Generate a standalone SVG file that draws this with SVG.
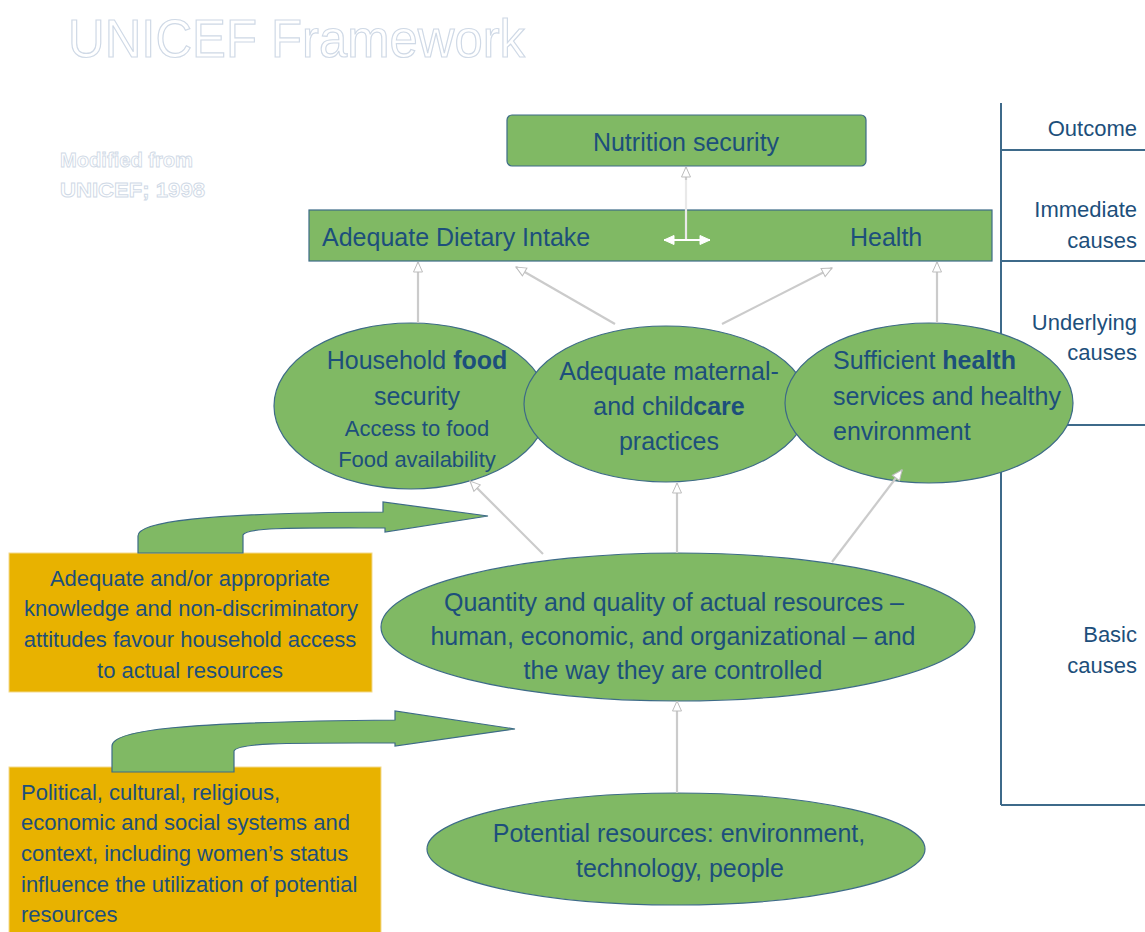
<svg xmlns="http://www.w3.org/2000/svg" width="1145" height="932" viewBox="0 0 1145 932">
<style>
  text { font-family: "Liberation Sans", Arial, sans-serif; fill: #1d4f7b; }
  .t25 { font-size: 25px; }
  .t22 { font-size: 22px; }
  .mid { text-anchor: middle; }
  .end { text-anchor: end; }
  .b { font-weight: bold; }
  .green { fill: #80b964; stroke: #3d6b87; stroke-width: 1.2; }
  .orange { fill: #e8b200; stroke: #f3d98c; stroke-width: 1; }
  .col { stroke: #3e6a8a; stroke-width: 2; fill: none; }
  .conn { stroke: #cbcbcb; stroke-width: 2.2; fill: none; marker-end: url(#ah); }
  .wconn { stroke: #e9e9e9; stroke-width: 2.2; fill: none; }
  .ghost { fill: #ffffff; stroke: #cfd9e6; stroke-width: 1.2; }
</style>
<defs>
  <marker id="ah" viewBox="0 0 12 12" refX="11" refY="6" markerWidth="12" markerHeight="12" markerUnits="userSpaceOnUse" orient="auto">
    <path d="M1,1.5 L11,6 L1,10.5 Z" fill="#ffffff" stroke="#bdbdbd" stroke-width="1"/>
  </marker>
  <marker id="wh" viewBox="0 0 12 12" refX="11" refY="6" markerWidth="12" markerHeight="12" markerUnits="userSpaceOnUse" orient="auto">
    <path d="M1,1.5 L11,6 L1,10.5 Z" fill="#ffffff" stroke="#ffffff" stroke-width="1"/>
  </marker>
  <marker id="wh0" viewBox="0 0 12 12" refX="1" refY="6" markerWidth="12" markerHeight="12" markerUnits="userSpaceOnUse" orient="auto">
    <path d="M11,1.5 L1,6 L11,10.5 Z" fill="#ffffff" stroke="#ffffff" stroke-width="1"/>
  </marker>
</defs>

<rect x="0" y="0" width="1145" height="932" fill="#ffffff"/>

<!-- Title and source -->
<g id="title">
  <text x="68" y="57" class="ghost" style="font-size:53px" textLength="457" lengthAdjust="spacingAndGlyphs">UNICEF Framework</text>
</g>
<g id="source">
  <text x="60" y="167" class="ghost b" style="font-size:21px; stroke-width:0.9" textLength="133" lengthAdjust="spacingAndGlyphs">Modified from</text>
  <text x="60" y="197" class="ghost b" style="font-size:21px; stroke-width:0.9" textLength="145" lengthAdjust="spacingAndGlyphs">UNICEF; 1998</text>
</g>

<!-- Level column -->
<g id="levels">
  <path class="col" d="M1001 103 L1001 805 M1001 150 L1145 150 M1001 261 L1145 261 M1001 425 L1145 425 M1001 805 L1145 805"/>
  <text x="1137" y="136" class="t22 end">Outcome</text>
  <text x="1137" y="217" class="t22 end">Immediate</text>
  <text x="1137" y="248" class="t22 end">causes</text>
  <text x="1137" y="330" class="t22 end">Underlying</text>
  <text x="1137" y="360" class="t22 end">causes</text>
  <text x="1137" y="642" class="t22 end">Basic</text>
  <text x="1137" y="673" class="t22 end">causes</text>
</g>

<!-- Outcome -->
<g id="nutrition-security">
  <rect x="507" y="115" width="359" height="51" rx="5" class="green"/>
  <text x="686" y="151" class="t25 mid">Nutrition security</text>
</g>

<!-- Immediate causes -->
<g id="immediate-causes">
  <rect x="309" y="210" width="683" height="51" class="green"/>
  <text x="322" y="246" class="t25">Adequate Dietary Intake</text>
  <text x="850" y="246" class="t25">Health</text>
</g>

<!-- Underlying causes -->
<g id="food-security">
  <ellipse cx="411" cy="406" rx="137" ry="83" class="green"/>
</g>
<g id="care-practices">
  <ellipse cx="666" cy="404" rx="142" ry="78" class="green"/>
</g>
<g id="health-services">
  <ellipse cx="929" cy="403" rx="144" ry="80" class="green"/>
</g>
<g id="underlying-labels">
  <text x="417" y="369" class="t25 mid">Household <tspan class="b">food</tspan></text>
  <text x="417" y="405" class="t25 mid">security</text>
  <text x="417" y="436" class="t22 mid">Access to food</text>
  <text x="417" y="467" class="t22 mid">Food availability</text>
  <text x="669" y="380" class="t25 mid">Adequate maternal-</text>
  <text x="669" y="415" class="t25 mid">and child<tspan class="b">care</tspan></text>
  <text x="669" y="450" class="t25 mid">practices</text>
  <text x="833" y="369" class="t25">Sufficient <tspan class="b">health</tspan></text>
  <text x="833" y="405" class="t25">services and healthy</text>
  <text x="833" y="440" class="t25">environment</text>
</g>

<!-- Basic causes -->
<g id="actual-resources">
  <ellipse cx="678" cy="627" rx="297" ry="74" class="green"/>
  <text x="674" y="611" class="t25 mid">Quantity and quality of actual resources –</text>
  <text x="673" y="645" class="t25 mid">human, economic, and organizational – and</text>
  <text x="673" y="679" class="t25 mid">the way they are controlled</text>
</g>
<g id="potential-resources">
  <ellipse cx="676" cy="849" rx="249" ry="56" class="green"/>
  <text x="679" y="842" class="t25 mid">Potential resources: environment,</text>
  <text x="680" y="877" class="t25 mid">technology, people</text>
</g>

<g id="knowledge-box">
  <rect x="9" y="553" width="363" height="139" class="orange"/>
  <text x="190" y="586" class="t22 mid">Adequate and/or appropriate</text>
  <text x="191" y="616" class="t22 mid">knowledge and non-discriminatory</text>
  <text x="190" y="647" class="t22 mid">attitudes favour household access</text>
  <text x="190" y="678" class="t22 mid">to actual resources</text>
</g>
<g id="systems-box">
  <rect x="9" y="767" width="372" height="175" class="orange"/>
  <text x="21" y="800" class="t22">Political, cultural, religious,</text>
  <text x="21" y="830" class="t22">economic and social systems and</text>
  <text x="21" y="861" class="t22">context, including women’s status</text>
  <text x="21" y="892" class="t22">influence the utilization of potential</text>
  <text x="21" y="922" class="t22">resources</text>
</g>

<!-- Curved influence arrows -->
<g id="influence-arrow-1">
  <path class="green" d="M138 553 L138 536 C138 522 200 513 383 512 L383 502 L488 516 L385 532 L385 528 C300 528 246 527 243 535 L243 553 Z"/>
</g>
<g id="influence-arrow-2">
  <path class="green" d="M112 772 L112 746 C112 730 180 722 395 720 L395 711 L515 729 L395 746 L395 743 C300 743 238 742 234 751 L234 772 Z"/>
</g>

<!-- Connectors -->
<g id="connectors">
  <line class="wconn" x1="686" y1="240" x2="686" y2="180"/>
  <line class="conn" x1="686" y1="180" x2="686" y2="167"/>
  <line stroke="#ffffff" stroke-width="2.2" x1="664" y1="240" x2="710" y2="240" marker-start="url(#wh0)" marker-end="url(#wh)"/>
  <line class="conn" x1="418" y1="323" x2="418" y2="262"/>
  <line class="conn" x1="615" y1="324" x2="516" y2="267"/>
  <line class="conn" x1="722" y1="324" x2="832" y2="268"/>
  <line class="conn" x1="937" y1="323" x2="937" y2="262"/>
  <line class="conn" x1="543" y1="554" x2="470" y2="481"/>
  <line class="conn" x1="677" y1="553" x2="677" y2="483"/>
  <line class="conn" x1="832" y1="562" x2="902" y2="470"/>
  <line class="conn" x1="677" y1="793" x2="677" y2="701"/>
</g>
</svg>
